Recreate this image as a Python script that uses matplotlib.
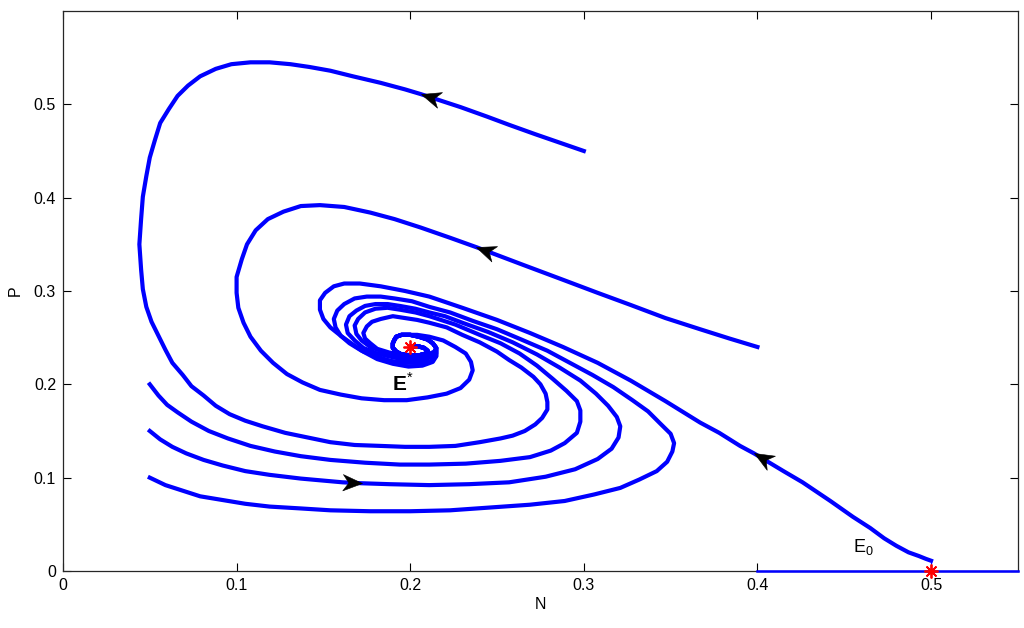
import math
import matplotlib
matplotlib.use("Agg")
import matplotlib.pyplot as plt
from matplotlib.path import Path
from matplotlib.markers import MarkerStyle
from matplotlib.transforms import Affine2D

plt.rcParams['font.family'] = ['Liberation Sans', 'DejaVu Sans']
plt.rcParams['mathtext.fontset'] = 'custom'
plt.rcParams['mathtext.rm'] = 'Liberation Sans'
plt.rcParams['mathtext.bf'] = 'Liberation Sans:bold'

# trajectoires (N, P)
top_N = [0.300, 0.286, 0.272, 0.257, 0.244, 0.229, 0.206, 0.197, 0.183, 0.167, 0.154, 0.142,
         0.131, 0.119, 0.108, 0.097, 0.088, 0.079, 0.072, 0.066, 0.061, 0.056, 0.053, 0.050, 0.048,
         0.046, 0.045, 0.044, 0.045, 0.046, 0.048, 0.051, 0.055, 0.059, 0.063, 0.069, 0.074, 0.081,
         0.088, 0.096, 0.105, 0.115, 0.128, 0.141, 0.154, 0.168, 0.183, 0.197, 0.211, 0.226, 0.240,
         0.252, 0.259, 0.266, 0.272, 0.276, 0.279, 0.279, 0.278, 0.275, 0.271, 0.264, 0.257, 0.250,
         0.240, 0.230, 0.221, 0.211, 0.204, 0.197, 0.190, 0.183, 0.178, 0.175, 0.173, 0.174, 0.177,
         0.181, 0.188, 0.195, 0.203, 0.210, 0.214]
top_P = [0.450, 0.459, 0.468, 0.478, 0.487, 0.497, 0.511, 0.516, 0.523, 0.530, 0.536, 0.540,
         0.543, 0.545, 0.545, 0.543, 0.538, 0.530, 0.520, 0.509, 0.495, 0.480, 0.462, 0.443, 0.423,
         0.401, 0.377, 0.350, 0.323, 0.302, 0.283, 0.267, 0.252, 0.237, 0.223, 0.210, 0.198, 0.188,
         0.177, 0.168, 0.161, 0.155, 0.148, 0.143, 0.138, 0.135, 0.134, 0.133, 0.133, 0.134, 0.138,
         0.142, 0.145, 0.150, 0.157, 0.164, 0.173, 0.181, 0.190, 0.200, 0.208, 0.218, 0.226, 0.235,
         0.245, 0.253, 0.261, 0.266, 0.269, 0.271, 0.273, 0.270, 0.267, 0.262, 0.255, 0.249, 0.244,
         0.238, 0.234, 0.232, 0.231, 0.232, 0.235]

mid_N = [0.400, 0.384, 0.367, 0.347, 0.327, 0.308, 0.288, 0.265, 0.238, 0.223, 0.206, 0.191, 0.177,
         0.162, 0.148, 0.137, 0.127, 0.118, 0.111, 0.106, 0.103, 0.100, 0.100, 0.101, 0.104, 0.108,
         0.114, 0.121, 0.129, 0.138, 0.148, 0.160, 0.172, 0.185, 0.198, 0.210, 0.221, 0.229, 0.234,
         0.236, 0.235, 0.232, 0.226, 0.219, 0.211, 0.204]
mid_P = [0.240, 0.249, 0.259, 0.271, 0.285, 0.298, 0.312, 0.328, 0.347, 0.357, 0.368, 0.377, 0.384,
         0.390, 0.392, 0.391, 0.385, 0.377, 0.365, 0.350, 0.334, 0.315, 0.298, 0.282, 0.266, 0.251,
         0.236, 0.223, 0.211, 0.202, 0.194, 0.189, 0.185, 0.183, 0.183, 0.186, 0.190, 0.196, 0.205,
         0.215, 0.224, 0.233, 0.240, 0.247, 0.251, 0.253]

e0_N = [0.500, 0.497, 0.493, 0.487, 0.480, 0.473, 0.465, 0.455, 0.442, 0.426, 0.415, 0.398, 0.390,
        0.378, 0.367, 0.347, 0.327, 0.308, 0.288, 0.269, 0.250, 0.230, 0.211, 0.197, 0.183, 0.171,
        0.162, 0.156, 0.151, 0.148, 0.148, 0.150, 0.154, 0.160, 0.166, 0.173, 0.181, 0.190, 0.199,
        0.207, 0.213, 0.215, 0.215]
e0_P = [0.011, 0.013, 0.016, 0.020, 0.027, 0.035, 0.046, 0.058, 0.075, 0.095, 0.107, 0.126, 0.134,
        0.148, 0.159, 0.182, 0.204, 0.223, 0.240, 0.255, 0.269, 0.282, 0.294, 0.300, 0.305, 0.308,
        0.308, 0.305, 0.298, 0.290, 0.280, 0.270, 0.261, 0.252, 0.244, 0.235, 0.227, 0.222, 0.219,
        0.220, 0.224, 0.230, 0.235]

# departs en N = 0.05
a_N = [0.050, 0.055, 0.060, 0.066, 0.074, 0.084, 0.095, 0.108, 0.122, 0.137, 0.154, 0.174, 0.194,
       0.211, 0.232, 0.252, 0.269, 0.281, 0.289, 0.296, 0.298, 0.298, 0.296, 0.290, 0.282, 0.273,
       0.263, 0.252, 0.240, 0.226, 0.211, 0.203, 0.194, 0.187, 0.180, 0.174, 0.170, 0.168, 0.169,
       0.172, 0.177, 0.184, 0.192, 0.200, 0.209, 0.213]
a_P = [0.200, 0.188, 0.178, 0.170, 0.160, 0.150, 0.142, 0.134, 0.128, 0.123, 0.119, 0.116, 0.114,
       0.114, 0.115, 0.118, 0.122, 0.129, 0.137, 0.148, 0.160, 0.172, 0.182, 0.193, 0.206, 0.220,
       0.233, 0.244, 0.253, 0.264, 0.273, 0.277, 0.280, 0.282, 0.281, 0.277, 0.270, 0.263, 0.254,
       0.247, 0.240, 0.235, 0.231, 0.229, 0.230, 0.232]

b_N = [0.050, 0.056, 0.063, 0.071, 0.081, 0.092, 0.105, 0.119, 0.137, 0.161, 0.172, 0.188, 0.211,
       0.234, 0.257, 0.278, 0.295, 0.308, 0.316, 0.320, 0.321, 0.319, 0.314, 0.307, 0.298, 0.286,
       0.273, 0.259, 0.245, 0.230, 0.220, 0.211, 0.203, 0.194, 0.187, 0.180, 0.174, 0.169, 0.165,
       0.163, 0.164, 0.168, 0.173, 0.181, 0.190, 0.198, 0.206, 0.212, 0.215]
b_P = [0.150, 0.141, 0.133, 0.126, 0.119, 0.113, 0.107, 0.103, 0.099, 0.095, 0.094, 0.093, 0.092,
       0.093, 0.095, 0.101, 0.109, 0.120, 0.131, 0.143, 0.155, 0.165, 0.177, 0.190, 0.204, 0.218,
       0.232, 0.245, 0.256, 0.266, 0.273, 0.277, 0.281, 0.284, 0.286, 0.286, 0.284, 0.279, 0.273,
       0.264, 0.255, 0.247, 0.239, 0.233, 0.229, 0.226, 0.226, 0.229, 0.233]

c_N = [0.050, 0.059, 0.069, 0.079, 0.092, 0.105, 0.119, 0.137, 0.154, 0.177, 0.200, 0.223, 0.246,
       0.269, 0.289, 0.306, 0.321, 0.332, 0.342, 0.348, 0.351, 0.352, 0.350, 0.344, 0.337, 0.328,
       0.317, 0.305, 0.292, 0.279, 0.264, 0.250, 0.236, 0.223, 0.211, 0.201, 0.191, 0.183, 0.175,
       0.168, 0.162, 0.158, 0.156, 0.157, 0.160, 0.165, 0.172, 0.180, 0.189, 0.198, 0.206, 0.212,
       0.215, 0.215]
c_P = [0.100, 0.092, 0.086, 0.080, 0.076, 0.072, 0.069, 0.067, 0.065, 0.064, 0.064, 0.065, 0.068,
       0.071, 0.075, 0.082, 0.089, 0.098, 0.107, 0.117, 0.128, 0.137, 0.147, 0.158, 0.171, 0.183,
       0.197, 0.210, 0.223, 0.236, 0.248, 0.259, 0.268, 0.277, 0.283, 0.289, 0.292, 0.294, 0.294,
       0.292, 0.286, 0.279, 0.270, 0.261, 0.252, 0.244, 0.236, 0.230, 0.225, 0.223, 0.223, 0.225,
       0.230, 0.235]

# petite boucle finale autour de E*
spiral_N = [0.215, 0.213, 0.210, 0.205, 0.200, 0.195, 0.192, 0.191, 0.190, 0.190, 0.192, 0.195, 0.200,
            0.205, 0.209, 0.210, 0.208, 0.204, 0.200]
spiral_P = [0.239, 0.244, 0.248, 0.251, 0.253, 0.253, 0.251, 0.248, 0.244, 0.239, 0.235, 0.232, 0.231,
            0.231, 0.233, 0.236, 0.239, 0.241, 0.240]

# equilibres E* et E0
eq_N = [0.2, 0.5]
eq_P = [0.24, 0.0]

# (N, P, indice de la fleche)
trajets = [
    (top_N + spiral_N, top_P + spiral_P, 6),
    (mid_N + spiral_N[4:], mid_P + spiral_P[4:], 8),
    (e0_N + spiral_N, e0_P + spiral_P, 11),
    (a_N + spiral_N, a_P + spiral_P, None),
    (b_N + spiral_N, b_P + spiral_P, 10),
    (c_N + spiral_N, c_P + spiral_P, None),
]

fig = plt.figure(figsize=(10.24, 6.28), dpi=100)
ax = fig.add_axes([0.0615, 0.0908, 0.9325, 0.8917])
ax.set_xlim(0, 0.55)
ax.set_ylim(0, 0.6)

tete = Path([(0, 0), (-1, 0.42), (-0.7, 0), (-1, -0.42), (0, 0)],
            [Path.MOVETO, Path.LINETO, Path.LINETO, Path.LINETO, Path.CLOSEPOLY])

for n, p, k in trajets:
    ax.plot(n, p, color='#0000ff', lw=3, solid_joinstyle='round', zorder=3)
    if k is not None:
        x0, y0 = ax.transData.transform((n[k - 1], p[k - 1]))
        x1, y1 = ax.transData.transform((n[k + 1], p[k + 1]))
        ang = math.atan2(y1 - y0, x1 - x0)
        m = MarkerStyle(tete, transform=Affine2D().rotate(ang))
        ax.plot(n[k], p[k], linestyle='none', marker=m, ms=28, color='k', mec='k', mew=0.4, zorder=5)

# axe N invariant
ax.plot([0.4, 0.55], [0.0, 0.0], color='#0000ff', lw=1.8, zorder=4, clip_on=False)
ax.plot([0.5, 0.5], [0.0, 0.011], color='#0000ff', lw=0.8, zorder=4)

ax.plot(eq_N, eq_P, linestyle='none', marker=(8, 2, 0), color='red', markersize=10,
        mew=1.3, zorder=6, clip_on=False)

ax.text(0.196, 0.201, r'$\mathbf{E}^{*}$', fontsize=15, ha='center', va='center', zorder=7)
ax.text(0.461, 0.026, r'$\mathrm{E}_0$', fontsize=13, ha='center', va='center', zorder=7)

ax.set_xticks([0, 0.1, 0.2, 0.3, 0.4, 0.5])
ax.set_xticklabels(['0', '0.1', '0.2', '0.3', '0.4', '0.5'])
ax.set_yticks([0, 0.1, 0.2, 0.3, 0.4, 0.5])
ax.set_yticklabels(['0', '0.1', '0.2', '0.3', '0.4', '0.5'])
ax.tick_params(direction='in', length=6, width=0.8, top=True, right=True, labelsize=11.5, pad=5)
for s in ax.spines.values():
    s.set_linewidth(0.9)
    s.set_color('#262626')
ax.set_xlabel('N', fontsize=11.5, labelpad=3)
ax.set_ylabel('P', fontsize=11.5, labelpad=8)

fig.savefig('out.png', dpi=100)
